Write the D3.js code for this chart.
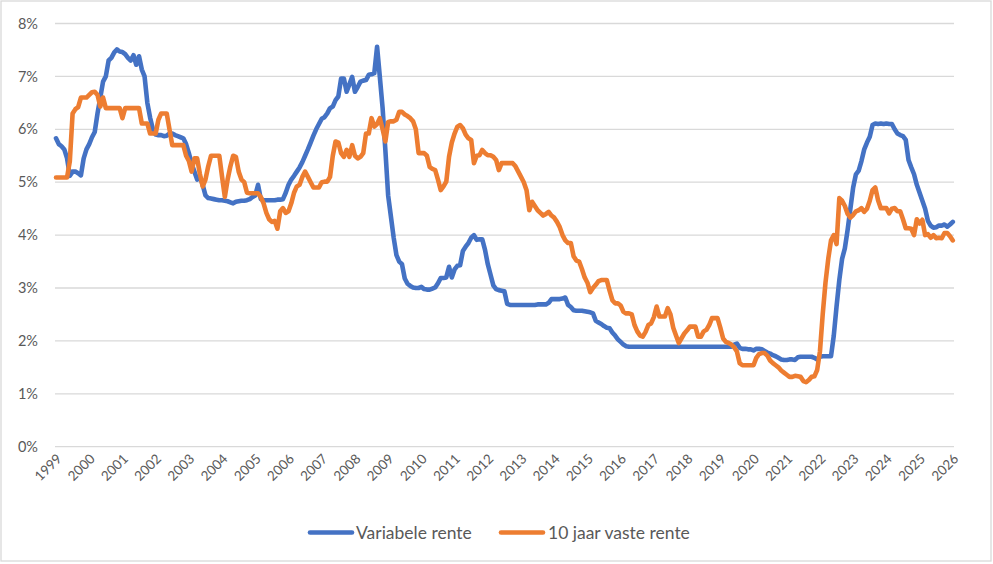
<!DOCTYPE html>
<html>
<head>
<meta charset="utf-8">
<script src="https://cdn.jsdelivr.net/npm/d3@7/dist/d3.min.js"></script>
<style>
  html, body { margin: 0; padding: 0; background: #fff; }
  svg { display: block; }
  text { font-family: Lato, "Open Sans", "Liberation Sans", sans-serif; fill: #595959; }
</style>
</head>
<body>
<svg id="chart" width="993" height="564"></svg>
<script>
// ---- Data (monthly, Jan 1999 .. Jan 2026) ----
const yearLabels = ["1999","2000","2001","2002","2003","2004","2005","2006","2007","2008","2009","2010","2011","2012","2013","2014","2015","2016","2017","2018","2019","2020","2021","2022","2023","2024","2025","2026"];
const yTicks = [0, 1, 2, 3, 4, 5, 6, 7, 8];
const seriesNames = ["Variabele rente", "10 jaar vaste rente"];

const variabeleRente = [
  // 1999
  5.83, 5.72, 5.68, 5.62, 5.45, 5.12, 5.2, 5.2, 5.17, 5.13, 5.45, 5.62,
  // 2000
  5.72, 5.85, 5.95, 6.3, 6.6, 6.9, 7.0, 7.3, 7.35, 7.45, 7.51, 7.47,
  // 2001
  7.46, 7.42, 7.35, 7.3, 7.4, 7.22, 7.38, 7.13, 7.0, 6.5, 6.22, 6.0,
  // 2002
  5.9, 5.89, 5.89, 5.87, 5.88, 5.92, 5.92, 5.89, 5.87, 5.85, 5.83, 5.72,
  // 2003
  5.55, 5.35, 5.2, 5.05, 5.1, 4.95, 4.75, 4.7, 4.69, 4.68, 4.67, 4.66,
  // 2004
  4.66, 4.65, 4.64, 4.62, 4.6, 4.63, 4.64, 4.65, 4.65, 4.66, 4.68, 4.72,
  // 2005
  4.75, 4.95, 4.68, 4.66, 4.66, 4.66, 4.66, 4.66, 4.67, 4.67, 4.68, 4.8,
  // 2006
  4.95, 5.05, 5.12, 5.2, 5.28, 5.38, 5.5, 5.62, 5.75, 5.88, 6.0, 6.1,
  // 2007
  6.2, 6.23, 6.3, 6.4, 6.43, 6.55, 6.62, 6.96, 6.96, 6.71, 6.85, 6.99,
  // 2008
  6.71, 6.8, 6.9, 6.92, 6.93, 7.03, 7.04, 7.06, 7.56, 6.99, 6.4, 5.6,
  // 2009
  4.75, 4.35, 3.95, 3.62, 3.5, 3.45, 3.18, 3.08, 3.04, 3.01, 3.0, 3.0,
  // 2010
  3.02, 2.98, 2.97, 2.97, 2.99, 3.01, 3.09, 3.19, 3.19, 3.2, 3.4, 3.2,
  // 2011
  3.35, 3.42, 3.43, 3.7, 3.78, 3.85, 3.95, 4.0, 3.91, 3.92, 3.92, 3.72,
  // 2012
  3.45, 3.25, 3.05, 2.98, 2.96, 2.95, 2.94, 2.7, 2.68, 2.68, 2.68, 2.68,
  // 2013
  2.68, 2.68, 2.68, 2.68, 2.68, 2.68, 2.69, 2.69, 2.69, 2.69, 2.72, 2.79,
  // 2014
  2.79, 2.79, 2.79, 2.8, 2.82, 2.68, 2.64, 2.58, 2.57, 2.57, 2.57, 2.56,
  // 2015
  2.55, 2.54, 2.52, 2.38, 2.35, 2.32, 2.28, 2.25, 2.24, 2.16, 2.1, 2.03,
  // 2016
  1.98, 1.93, 1.9, 1.89, 1.89, 1.89, 1.89, 1.89, 1.89, 1.89, 1.89, 1.89,
  // 2017
  1.89, 1.89, 1.89, 1.89, 1.89, 1.89, 1.89, 1.89, 1.89, 1.89, 1.89, 1.89,
  // 2018
  1.89, 1.89, 1.89, 1.89, 1.89, 1.89, 1.89, 1.89, 1.89, 1.89, 1.89, 1.89,
  // 2019
  1.89, 1.89, 1.89, 1.89, 1.89, 1.93, 1.95, 1.87, 1.85, 1.85, 1.84, 1.84,
  // 2020
  1.82, 1.85, 1.85, 1.84, 1.81, 1.78, 1.76, 1.73, 1.71, 1.68, 1.65, 1.64,
  // 2021
  1.64, 1.65, 1.65, 1.64, 1.69, 1.7, 1.7, 1.7, 1.7, 1.7, 1.68, 1.65,
  // 2022
  1.7, 1.71, 1.71, 1.71, 1.71, 2.1, 2.65, 3.15, 3.55, 3.75, 4.1, 4.5,
  // 2023
  4.9, 5.15, 5.22, 5.4, 5.62, 5.75, 5.86, 6.08, 6.11, 6.1, 6.11, 6.1,
  // 2024
  6.11, 6.1, 6.1, 6.0, 5.92, 5.89, 5.87, 5.8, 5.42, 5.28, 5.15, 4.95,
  // 2025
  4.8, 4.65, 4.5, 4.27, 4.18, 4.14, 4.15, 4.18, 4.18, 4.2, 4.16, 4.2,
  // 2026
  4.25
];

const vasteRente10 = [
  // 1999
  5.09, 5.09, 5.09, 5.09, 5.09, 5.4, 6.3, 6.38, 6.42, 6.6, 6.6, 6.6,
  // 2000
  6.65, 6.7, 6.71, 6.65, 6.43, 6.6, 6.4, 6.4, 6.4, 6.4, 6.4, 6.4,
  // 2001
  6.21, 6.4, 6.4, 6.4, 6.4, 6.4, 6.4, 6.11, 6.11, 6.11, 5.92, 5.92,
  // 2002
  5.92, 6.18, 6.3, 6.3, 6.3, 6.0, 5.7, 5.7, 5.7, 5.7, 5.7, 5.5,
  // 2003
  5.4, 5.2, 5.45, 5.45, 5.15, 4.92, 5.05, 5.3, 5.5, 5.5, 5.5, 5.5,
  // 2004
  5.1, 4.72, 5.05, 5.3, 5.5, 5.48, 5.2, 5.05, 5.0, 4.8, 4.79, 4.79,
  // 2005
  4.79, 4.79, 4.72, 4.6, 4.42, 4.3, 4.25, 4.27, 4.12, 4.45, 4.51, 4.42,
  // 2006
  4.45, 4.6, 4.8, 4.92, 4.95, 5.1, 5.2, 5.1, 5.0, 4.9, 4.9, 4.9,
  // 2007
  5.0, 5.01, 5.01, 5.1, 5.5, 5.77, 5.75, 5.55, 5.48, 5.61, 5.48, 5.7,
  // 2008
  5.5, 5.45, 5.48, 5.55, 5.92, 5.92, 6.21, 6.05, 6.1, 6.21, 6.0, 5.77,
  // 2009
  6.14, 6.15, 6.15, 6.18, 6.33, 6.33, 6.28, 6.25, 6.21, 6.15, 6.0, 5.55,
  // 2010
  5.55, 5.55, 5.5, 5.29, 5.25, 5.23, 5.05, 4.85, 4.92, 5.01, 5.48, 5.75,
  // 2011
  5.92, 6.05, 6.08, 6.02, 5.9, 5.83, 5.8, 5.36, 5.5, 5.51, 5.61, 5.55,
  // 2012
  5.51, 5.51, 5.48, 5.42, 5.23, 5.36, 5.36, 5.36, 5.36, 5.36, 5.3, 5.2,
  // 2013
  5.1, 5.0, 4.85, 4.47, 4.63, 4.55, 4.47, 4.42, 4.37, 4.4, 4.44, 4.37,
  // 2014
  4.33, 4.25, 4.15, 4.0, 3.9, 3.85, 3.85, 3.6, 3.52, 3.5, 3.36, 3.2,
  // 2015
  3.1, 2.92, 3.0, 3.06, 3.13, 3.15, 3.15, 3.15, 2.95, 2.77, 2.71, 2.71,
  // 2016
  2.67, 2.55, 2.52, 2.52, 2.5, 2.3, 2.18, 2.1, 2.08, 2.17, 2.3, 2.33,
  // 2017
  2.45, 2.65, 2.46, 2.46, 2.46, 2.62, 2.5, 2.25, 2.1, 1.96, 2.05, 2.14,
  // 2018
  2.2, 2.27, 2.27, 2.27, 2.08, 2.08, 2.18, 2.21, 2.3, 2.43, 2.43, 2.43,
  // 2019
  2.25, 2.05, 1.98, 1.96, 1.93, 1.88, 1.8, 1.58, 1.54, 1.54, 1.54, 1.54,
  // 2020
  1.54, 1.68, 1.75, 1.77, 1.77, 1.72, 1.63, 1.58, 1.54, 1.5, 1.44, 1.4,
  // 2021
  1.36, 1.32, 1.32, 1.34, 1.33, 1.32, 1.24, 1.22, 1.26, 1.32, 1.33, 1.45,
  // 2022
  1.8, 2.5, 3.1, 3.55, 3.9, 4.0, 3.83, 4.7, 4.65, 4.55, 4.4, 4.33,
  // 2023
  4.38, 4.45, 4.47, 4.51, 4.44, 4.5, 4.65, 4.85, 4.9, 4.66, 4.51, 4.51,
  // 2024
  4.51, 4.41, 4.5, 4.51, 4.45, 4.45, 4.3, 4.13, 4.13, 4.12, 4.0, 4.3,
  // 2025
  4.22, 4.29, 4.0, 4.02, 3.95, 4.0, 3.94, 3.95, 3.94, 4.04, 4.04, 3.98,
  // 2026
  3.9
];

const colors = ["#4472C4", "#ED7D31"];

// ---- Layout ----
const W = 993, H = 564;
const plot = { left: 55, right: 954, top: 23.5, bottom: 446.7 };
const svg = d3.select("#chart");

// chart border
svg.append("rect")
  .attr("x", 1).attr("y", 1).attr("width", W - 3).attr("height", H - 4)
  .attr("fill", "#fff").attr("stroke", "#d9d9d9").attr("stroke-width", 1.3);

const nMonths = variabeleRente.length - 1;
const x = d3.scaleLinear().domain([0, nMonths]).range([56, 952.8]);
const y = d3.scaleLinear().domain([0, 8]).range([plot.bottom, plot.top]);

// gridlines
svg.append("g").selectAll("line").data(yTicks).join("line")
  .attr("x1", plot.left).attr("x2", plot.right)
  .attr("y1", d => y(d)).attr("y2", d => y(d))
  .attr("stroke", "#d9d9d9").attr("stroke-width", 1.3);

// y axis labels
const yAxis = d3.axisLeft(y).tickValues(yTicks).tickFormat(d => d + "%").tickSize(0).tickPadding(0);
const yg = svg.append("g").attr("transform", `translate(${38},0)`).call(yAxis);
yg.select(".domain").remove();
yg.selectAll("text").attr("font-size", 14.5).attr("fill", "#595959")
  .style("font-family", "Lato, 'Open Sans', sans-serif");

// x axis labels (years, rotated)
const xTickVals = yearLabels.map((d, i) => i * 12);
const xAxis = d3.axisBottom(x).tickValues(xTickVals).tickFormat((d, i) => yearLabels[i]).tickSize(0).tickPadding(0);
const xg = svg.append("g").attr("transform", `translate(0,${plot.bottom})`).call(xAxis);
xg.select(".domain").remove();
xg.selectAll("text")
  .attr("font-size", 13.5).attr("fill", "#595959")
  .style("font-family", "Lato, 'Open Sans', sans-serif")
  .attr("text-anchor", "end")
  .attr("dy", null).attr("y", 0)
  .attr("transform", "translate(6,13) rotate(-45)");

// lines
const line = d3.line().x((d, i) => x(i)).y(d => y(d)).curve(d3.curveLinear);
[variabeleRente, vasteRente10].forEach((s, k) => {
  svg.append("path").datum(s)
    .attr("d", line)
    .attr("fill", "none")
    .attr("stroke", colors[k])
    .attr("stroke-width", 4.6)
    .attr("stroke-linejoin", "round")
    .attr("stroke-linecap", "round");
});

// legend
const legendItems = [
  { name: seriesNames[0], color: colors[0], x0: 310, tx: 356 },
  { name: seriesNames[1], color: colors[1], x0: 501, tx: 548 }
];
const lg = svg.append("g");
legendItems.forEach(it => {
  lg.append("line").attr("x1", it.x0).attr("x2", it.x0 + 42).attr("y1", 532.5).attr("y2", 532.5)
    .attr("stroke", it.color).attr("stroke-width", 4.6).attr("stroke-linecap", "round");
  lg.append("text").attr("x", it.tx).attr("y", 538.5).attr("font-size", 17.5).text(it.name);
});
</script>
</body>
</html>
